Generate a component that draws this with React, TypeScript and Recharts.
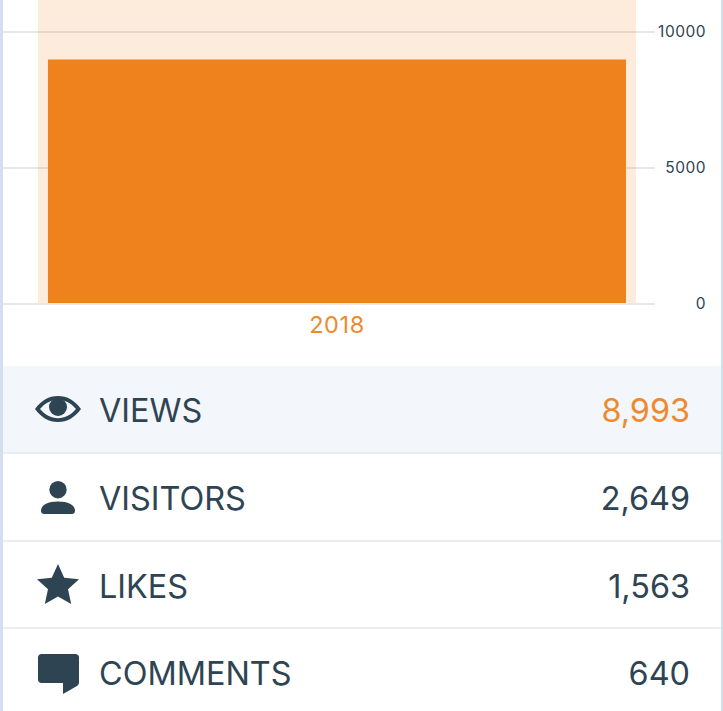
import React from "react";
import { BarChart, Bar, XAxis, YAxis, CartesianGrid, ReferenceArea } from "recharts";

const years = ["2018"];
const views = [8993];
const axisTicks = [0, 5000, 10000];
const axisMax = 11176;

const statLabels = ["VIEWS", "VISITORS", "LIKES", "COMMENTS"];
const statValues = [8993, 2649, 1563, 640];

const chartData = years.map((year, i) => ({ year, views: views[i] }));

const INK = "#2e4453";
const ORANGE = "#f0821e";
const ORANGE_TEXT = "#ee8a2e";
const FONT = "Inter, 'Noto Sans', sans-serif";
const ROW_HEIGHT = 87.8;

function RightTick({ x, y, payload }: any) {
  return (
    <text x={706} y={y} dy={5} textAnchor="end" fontSize={15.5} fontFamily={FONT} fill={INK} letterSpacing={0.5}>
      {payload.value}
    </text>
  );
}

function Icon({ name }: { name: string }) {
  if (name === "VIEWS") {
    return (
      <svg width="46" height="26" viewBox="0 0 46 26" style={{ flexShrink: 0 }}>
        <path
          fillRule="evenodd"
          fill={INK}
          d="M0 13C6 4.500 14 0 23 0s17 4.500 23 13c-6 8.500-14 13-23 13S6 21.500 0 13zM5 13c5 5.800 11 9.200 18 9.200S36 18.800 41 13C36 7.200 30 3.800 23 3.800S10 7.200 5 13z"
        />
        <circle cx="23" cy="11" r="9" fill={INK} />
      </svg>
    );
  }
  if (name === "VISITORS") {
    return (
      <svg width="34" height="33" viewBox="0 0 34 33" style={{ flexShrink: 0, marginTop: 2 }}>
        <circle cx="17" cy="8.700" r="8.700" fill={INK} />
        <path fill={INK} d="M0 29.500C0 24 7 20.500 17 20.500S34 24 34 29.500c0 2.200-1 3.500-3 3.500H3c-2 0-3-1.300-3-3.500z" />
      </svg>
    );
  }
  if (name === "LIKES") {
    return (
      <svg width="42" height="40" viewBox="0 0 42 40" style={{ flexShrink: 0 }}>
        <path fill={INK} d="M21 0l6.200 13.800 14.800 1.500-11 10 3.200 14.700L21 32.500 7.800 40 11 25.300 0 15.300l14.800-1.500z" />
      </svg>
    );
  }
  return (
    <svg width="41" height="40" viewBox="0 0 41 40" style={{ flexShrink: 0, marginTop: 3 }}>
      <path
        fill={INK}
        d="M3.500 0h34C39.500 0 41 1.500 41 3.500v25c0 1.500-.8 2.800-2 3.500L25 40V29H3.500C1.500 29 0 27.500 0 25.500v-22C0 1.500 1.500 0 3.500 0z"
      />
    </svg>
  );
}

export default function App() {
  return (
    <div
      style={{
        position: "absolute",
        left: 0,
        top: 0,
        width: 723,
        height: 711,
        overflow: "hidden",
        background: "#fff",
        fontFamily: FONT,
      }}
    >
      <BarChart
        width={723}
        height={366}
        data={chartData}
        margin={{ top: 0, right: 0, bottom: 0, left: 3 }}
        barCategoryGap={10}
      >
        <CartesianGrid vertical={false} stroke="#e6e8eb" strokeWidth={2} horizontalValues={axisTicks} />
        <XAxis
          dataKey="year"
          height={62}
          padding={{ left: 35, right: 19 }}
          axisLine={{ stroke: "#e6e8eb", strokeWidth: 2 }}
          tickLine={false}
          tickMargin={6}
          tick={{ fill: ORANGE_TEXT, fontSize: 23.5, fontFamily: FONT, letterSpacing: 0.6 }}
        />
        <YAxis
          orientation="right"
          width={68}
          domain={[0, axisMax]}
          ticks={axisTicks}
          axisLine={false}
          tickLine={false}
          tick={<RightTick />}
        />
        <ReferenceArea x1="2018" x2="2018" fill={ORANGE} fillOpacity={0.16} stroke="none" />
        <Bar dataKey="views" fill={ORANGE} isAnimationActive={false} />
      </BarChart>

      {statLabels.map((label, i) => (
        <div
          key={label}
          style={{
            position: "absolute",
            left: 3,
            right: 2,
            top: 366 + i * ROW_HEIGHT,
            height: ROW_HEIGHT,
            boxSizing: "border-box",
            borderBottom: "2px solid #e9eef3",
            background: i === 0 ? "#f3f6fa" : "#fff",
            color: INK,
            fontSize: 32.4,
          }}
        >
          <div
            style={{
              position: "absolute",
              left: 34,
              width: 42,
              top: 0,
              bottom: 0,
              display: "flex",
              alignItems: "center",
              justifyContent: "center",
            }}
          >
            <Icon name={label} />
          </div>
          <div style={{ position: "absolute", left: 96, top: 25, lineHeight: "40px" }}>{label}</div>
          <div
            style={{
              position: "absolute",
              right: 31,
              top: 25,
              lineHeight: "40px",
              color: i === 0 ? ORANGE_TEXT : INK,
            }}
          >
            {statValues[i].toLocaleString("en-US")}
          </div>
        </div>
      ))}

      <div style={{ position: "absolute", left: 0, top: 0, width: 3, height: 711, background: "#d3dfef" }} />
      <div style={{ position: "absolute", right: 0, top: 0, width: 2, height: 711, background: "#d3dfef" }} />
    </div>
  );
}
